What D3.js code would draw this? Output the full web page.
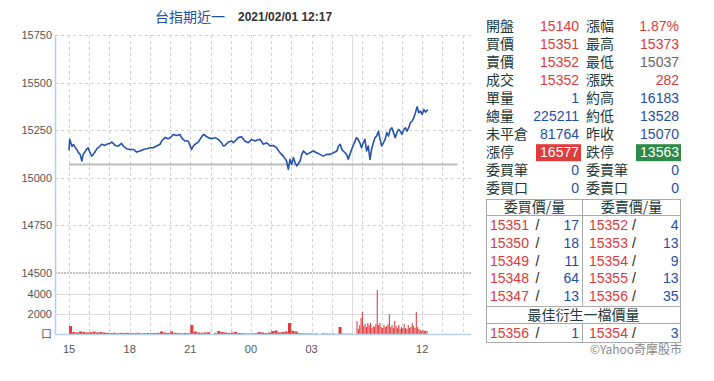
<!DOCTYPE html>
<html><head><meta charset="utf-8">
<script src="https://cdn.jsdelivr.net/npm/d3@7"></script>
<style>body{margin:0;background:#fff}svg{display:block}</style>
</head><body><svg id="c" width="714" height="381"></svg>
<script>
// ---------- DATA ----------
const titleName = "台指期近一";
const titleTime = "2021/02/01 12:17";
const prevClose = 15070;
// trading clock: minutes since 15:00 (night 15:00-05:00 = 0..840, day 08:45-13:45 = 1065..1365)
const nightTimes = [0,2,9,13,18,23,28,33,38,42,47,52,57,62,68,72,77,83,87,92,97,107,112,122,127,137,146,156,161,171,181,191,201,211,221,231,240,250,260,270,275,285,295,305,310,320,329,334,344,354,359,364,369,374,384,394,399,404,413,424,433,443,453,458,463,473,483,488,493,502,512,522,532,542,552,567,577,587,597,606,616,626,636,646,651,656,661,666,671,676,686,691,696,706,715,725,735,745,755,765,775,785,795,800,805,810,814,824,829,834,839];
const nightPrices = [15145,15202,15165,15175,15160,15149,15132,15123,15088,15123,15135,15149,15158,15133,15114,15123,15135,15153,15158,15167,15176,15170,15176,15181,15188,15170,15167,15181,15167,15153,15149,15149,15135,15141,15149,15153,15158,15158,15167,15176,15193,15211,15205,15219,15228,15222,15228,15211,15193,15193,15170,15149,15167,15176,15188,15216,15228,15222,15211,15205,15211,15202,15184,15167,15170,15188,15193,15184,15193,15211,15216,15193,15184,15202,15193,15202,15176,15184,15167,15170,15158,15132,15114,15088,15045,15097,15071,15106,15080,15062,15088,15123,15141,15123,15132,15141,15132,15123,15114,15123,15123,15132,15141,15167,15176,15149,15141,15123,15097,15123,15150];
const dayTimes = [1065,1070,1075,1080,1085,1090,1095,1100,1105,1110,1115,1120,1125,1130,1135,1140,1145,1150,1155,1160,1165,1170,1175,1180,1185,1190,1195,1200,1205,1210,1215,1220,1225,1230,1235,1240,1245,1250,1255,1260,1265,1270,1275,1277];
const dayPrices = [15211,15202,15184,15158,15184,15202,15141,15167,15097,15150,15184,15211,15219,15245,15202,15167,15184,15202,15237,15219,15254,15263,15237,15211,15237,15254,15245,15228,15254,15263,15245,15263,15289,15298,15315,15342,15373,15342,15350,15333,15359,15345,15355,15352];
// volume: night in 10-minute bins from 15:00, day in 4-minute bins from 08:45
const nightVolStart = 0, nightVolStep = 10;
const nightVolumes = [800,200,150,250,200,150, 180,250,150,200,150,120, 100,120,80,120,100,120, 100,80,120,60,80,100, 80,100,120,250,150,100, 250,120,100,80,100,80, 900,250,150,120,150,180, 0,80,300,200,150,100, 150,200,100,80,60,50, 60,80,200,150,100,150, 300,350,150,200,250,1100, 300,250,80,60,50,60, 40,50,0,60,40,30, 50,0,700,40,30,40];
const dayVolStart = 1065, dayVolStep = 4;
const dayVolumes = [1300,500,900,1600,2200,800,1000,700,1100,900,1100,600,800,700,1000,4400,900,1100,700,600,900,700,800,1000,2000,700,900,600,1300,800,600,900,500,700,600,1000,600,500,900,600,700,1100,800,600,2200,700,500,400,300,400,300,350,300];
const priceTicks = [15750,15500,15250,15000,14750];
const sepTick = 14500;
const volTicks = [4000,2000];
const volZeroLabel = "口";
const hourTicks = [0,60,120,180,240,300,360,420,480,540,600,660,720,780,840,1080,1140,1200,1260,1320,1380];
const xLabelTimes = [0,180,360,540,720,1260];
const xLabels = ["15","18","21","00","03","12"];
// quote panel
const quoteLeft = [["開盤","15140","up"],["買價","15351","up"],["賣價","15352","up"],["成交","15352","up"],["單量","1","vol"],["總量","225211","vol"],["未平倉","81764","vol"],["漲停","16577","limitUp"],["委買筆","0","vol"],["委買口","0","vol"]];
const quoteRight = [["漲幅","1.87%","up"],["最高","15373","up"],["最低","15037","flat"],["漲跌","282","up"],["約高","16183","vol"],["約低","13528","vol"],["昨收","15070","vol"],["跌停","13563","limitDown"],["委賣筆","0","vol"],["委賣口","0","vol"]];
const bookHeaders = ["委買價/量","委賣價/量"];
const bidPrices = [15351,15350,15349,15348,15347];
const bidQty = [17,18,11,64,13];
const askPrices = [15352,15353,15354,15355,15356];
const askQty = [4,13,9,13,35];
const bestTitle = "最佳衍生一檔價量";
const bestBid = [15356,1];
const bestAsk = [15354,3];
const credit = "©Yahoo奇摩股市";

// ---------- DRAW ----------
const svg = d3.select("#c");
const CJK = "'Noto Sans CJK TC','Noto Sans CJK SC',sans-serif";
const SANS = "'Liberation Sans',Arial,sans-serif";
const colors = {up:"#e0393b", vol:"#1f4ea6", flat:"#666", limitUp:"#fff", limitDown:"#fff"};
const labelColor = "#1c3a3a";

const x = d3.scaleLinear().domain([0,840,1065,1405]).range([69,352,356.5,471]);
const y = d3.scaleLinear().domain([14500,15750]).range([273,35]);
const yv = d3.scaleLinear().domain([0,4000]).range([334,294]);
const L = 55, R = 471, T = 35, B = 334;

// title
svg.append("text").attr("x",155).attr("y",22).attr("font-family",CJK).attr("font-size",14)
  .attr("fill","#1f4fa6").text(titleName);
svg.append("text").attr("x",238).attr("y",21).attr("font-family",SANS).attr("font-size",12)
  .attr("font-weight","bold").attr("fill","#333").text(titleTime);

// vertical grid
svg.append("g").selectAll("line").data(hourTicks).join("line")
  .attr("x1",d=>Math.round(x(d))+0.5).attr("x2",d=>Math.round(x(d))+0.5).attr("y1",T).attr("y2",B)
  .attr("stroke",d=>d===840?"#ddd":"#d0d0d0").attr("stroke-dasharray",d=>d===840?null:"3,3");
// horizontal price grid
svg.append("g").selectAll("line").data(priceTicks).join("line")
  .attr("x1",L).attr("x2",R).attr("y1",d=>Math.round(y(d))+0.5).attr("y2",d=>Math.round(y(d))+0.5)
  .attr("stroke","#d0d0d0").attr("stroke-dasharray","3,3");
svg.append("line").attr("x1",L).attr("x2",R).attr("y1",Math.round(y(sepTick))).attr("y2",Math.round(y(sepTick)))
  .attr("stroke","#c4c4c4").attr("stroke-width",2).attr("stroke-dasharray","2,1");
// volume grid
svg.append("g").selectAll("line").data(volTicks).join("line")
  .attr("x1",L).attr("x2",R).attr("y1",d=>Math.round(yv(d))+0.5).attr("y2",d=>Math.round(yv(d))+0.5)
  .attr("stroke","#dcdcdc");

// previous close reference
svg.append("line").attr("x1",x(0)).attr("x2",x(1365)).attr("y1",y(prevClose)).attr("y2",y(prevClose))
  .attr("stroke","#bdbdbd").attr("stroke-width",2);

// volume bars
const volData = nightVolumes.map((v,i)=>({t:nightVolStart+i*nightVolStep,w:nightVolStep,v}))
  .concat(dayVolumes.map((v,i)=>({t:dayVolStart+i*dayVolStep,w:dayVolStep,v})));
svg.append("g").selectAll("rect").data(volData.filter(d=>d.v>0)).join("rect")
  .attr("x",d=>x(d.t)).attr("width",d=>Math.max(0.8,x(d.t+d.w)-x(d.t)-0.3))
  .attr("y",d=>yv(d.v)).attr("height",d=>yv(0)-yv(d.v)).attr("fill","#e23b3b");

// price line
const pts = nightTimes.map((t,i)=>[t,nightPrices[i]]).concat(dayTimes.map((t,i)=>[t,dayPrices[i]]));
svg.append("path").datum(pts).attr("fill","none").attr("stroke","#2353b0").attr("stroke-width",1.6)
  .attr("stroke-linejoin","round")
  .attr("d",d3.line().x(d=>x(d[0])).y(d=>y(d[1])));

// axes lines
svg.append("line").attr("x1",L+0.5).attr("x2",L+0.5).attr("y1",T).attr("y2",B+0.5).attr("stroke","#b7d0ea").attr("stroke-width",1.5);
svg.append("line").attr("x1",L).attr("x2",R).attr("y1",B+0.5).attr("y2",B+0.5).attr("stroke","#b7d0ea").attr("stroke-width",1.5);

// y labels
const yl = svg.append("g").attr("font-family",SANS).attr("font-size",11).attr("fill","#555").attr("text-anchor","end");
yl.selectAll("text.p").data(priceTicks.concat([sepTick])).join("text").attr("class","p")
  .attr("x",52).attr("y",d=>y(d)).attr("dy","0.36em").text(d=>d);
yl.selectAll("text.v").data(volTicks).join("text").attr("class","v")
  .attr("x",52).attr("y",d=>yv(d)).attr("dy","0.36em").text(d=>d);
yl.append("text").attr("x",52).attr("y",yv(0)).attr("dy","0.38em").attr("font-family",CJK).text(volZeroLabel);
// x labels
svg.append("g").attr("font-family",SANS).attr("font-size",11).attr("fill","#555").attr("text-anchor","middle")
  .selectAll("text").data(xLabelTimes).join("text")
  .attr("x",d=>x(d)).attr("y",353).text((d,i)=>xLabels[i]);

// quote panel
const rowY = i => 25.5 + 18.1*i;
function quoteCol(rows, lx, vx, boxX){
  const g = svg.append("g");
  rows.forEach((r,i)=>{
    const cy = rowY(i);
    g.append("text").attr("x",lx).attr("y",cy+5).attr("font-family",CJK).attr("font-size",14).attr("fill",labelColor).text(r[0]);
    if(r[2]==="limitUp"||r[2]==="limitDown"){
      g.append("rect").attr("x",boxX).attr("y",cy-8).attr("width",vx+2-boxX).attr("height",17)
        .attr("fill",r[2]==="limitUp"?"#e03c3c":"#2e8a47");
    }
    g.append("text").attr("x",vx).attr("y",cy+5).attr("font-family",SANS).attr("font-size",14)
      .attr("text-anchor","end").attr("fill",colors[r[2]]).text(r[1]);
  });
}
quoteCol(quoteLeft,486,579,536);
quoteCol(quoteRight,586,679,636);

// order book
const bk = svg.append("g");
const bx0=486.5,bx1=680.5,bmid=582.5,by0=199.5,by1=342.5;
bk.append("rect").attr("x",bx0).attr("y",by0).attr("width",bx1-bx0).attr("height",by1-by0).attr("fill","none").attr("stroke","#aaa");
[[bmid,by0,bmid,306.5],[bmid,323.5,bmid,by1],[bx0,215.5,bx1,215.5],[bx0,306.5,bx1,306.5],[bx0,323.5,bx1,323.5]]
  .forEach(l=>bk.append("line").attr("x1",l[0]).attr("y1",l[1]).attr("x2",l[2]).attr("y2",l[3]).attr("stroke","#aaa"));
bk.selectAll("text.h").data(bookHeaders).join("text").attr("class","h")
  .attr("x",(d,i)=>i?631.5:534.5).attr("y",212).attr("text-anchor","middle")
  .attr("font-family",CJK).attr("font-size",14).attr("fill",labelColor).text(d=>d);
function bookRow(cy, bp, bq, ap, aq){
  [[490,537.5,579,bp,bq],[589,634,678.5,ap,aq]].forEach(c=>{
    bk.append("text").attr("x",c[0]).attr("y",cy+5).attr("font-family",SANS).attr("font-size",14).attr("fill",colors.up).text(c[3]);
    bk.append("text").attr("x",c[1]).attr("y",cy+5).attr("text-anchor","middle").attr("font-family",SANS).attr("font-size",14).attr("fill","#222").text("/");
    bk.append("text").attr("x",c[2]).attr("y",cy+5).attr("text-anchor","end").attr("font-family",SANS).attr("font-size",14).attr("fill",colors.vol).text(c[4]);
  });
}
bidPrices.forEach((p,i)=>bookRow(225+17.8*i,p,bidQty[i],askPrices[i],askQty[i]));
bk.append("text").attr("x",583.5).attr("y",320).attr("text-anchor","middle").attr("font-family",CJK)
  .attr("font-size",14).attr("fill",labelColor).text(bestTitle);
bookRow(332.5,bestBid[0],bestBid[1],bestAsk[0],bestAsk[1]);

svg.append("text").attr("x",682).attr("y",354).attr("text-anchor","end").attr("font-family",CJK)
  .attr("font-size",12).attr("fill","#888").text(credit);
</script></body></html>
